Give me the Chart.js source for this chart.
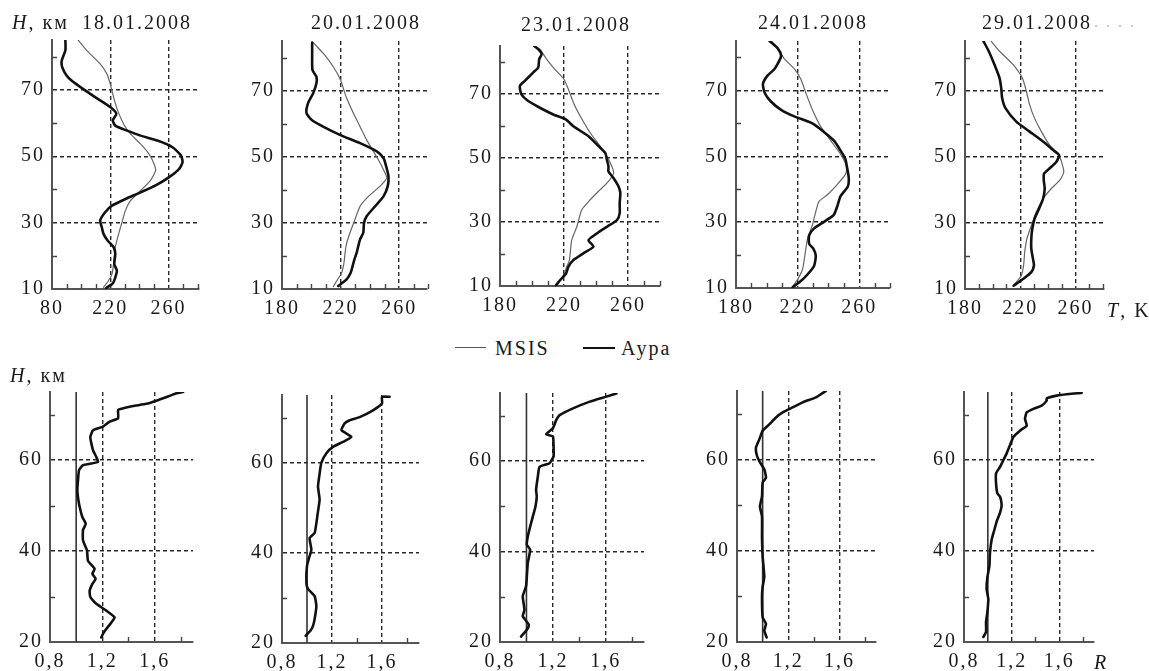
<!DOCTYPE html>
<html>
<head>
<meta charset="utf-8">
<script src="https://cdn.jsdelivr.net/npm/chart.js@4.4.1/dist/chart.umd.min.js"></script>
<style>
  html, body { margin: 0; padding: 0; background: #fff; }
  body { position: relative; width: 1149px; height: 671px; overflow: hidden; }
  canvas { position: absolute; }
  .txt { position: absolute; font-family: "Liberation Serif", "Times New Roman", serif; font-size: 20px;
         line-height: 20px; letter-spacing: 2px; color: #1a1a1a; white-space: nowrap; transform: translateY(-50%); }
  .ctr { transform: translate(-50%, -50%); }
  .it { font-style: italic; }
  .key { position: absolute; height: 0; }
</style>
</head>
<body>
<script>
// Sounding dates
const dates = ['18.01.2008', '20.01.2008', '23.01.2008', '24.01.2008', '29.01.2008'];

// Temperature profiles: [T, K ; H, km]
const auraT18 = [[189.2,85],[189.2,81.9],[186.7,78.8],[187,76.8],[190,74.3],[193.4,72.8],[201.5,70.2],[209.6,67.8],[220,64.8],[224.2,62.8],[221.8,60.8],[223.5,59.2],[231.6,57.7],[240.8,56.2],[252.4,54.7],[262.8,52.7],[268.6,50.2],[269.7,48.2],[267.4,46.2],[260.5,43.7],[251.2,41.2],[240.8,39.1],[230.4,37.1],[221.2,35.1],[216.5,33.1],[213.1,30.6],[214.2,28.6],[215.4,26.6],[218.2,24.6],[222.3,22.6],[223.5,20.6],[222.8,17.5],[224.6,15.5],[223.5,13.5],[221.8,11.7],[217.2,10.3]];
const msisT18 = [[198,85],[203.8,81.9],[213.1,77.8],[217.7,74.8],[220,71.8],[222.3,67.8],[225.1,63.8],[229.2,59.7],[233.9,56.7],[240.8,53.7],[246.6,50.7],[250.1,47.7],[251.2,45.7],[247.7,42.7],[240.8,39.6],[233.9,36.6],[230.4,33.6],[228.1,30.1],[225.8,26.6],[223.5,22.6],[222.3,17.5],[221.2,14.5],[218.8,12.5],[215.4,10.5]];

const auraT20 = [[200.6,84.5],[200.6,81.3],[200.8,76.2],[203.5,74.2],[203.5,72.2],[201.3,69.2],[197.8,66.2],[196.7,63.2],[200.1,61.2],[208.1,59.1],[219.5,56.6],[233.3,54.1],[244.7,51.6],[249.3,49.6],[251.1,47.1],[252.7,44.1],[252.2,41.1],[249.3,38],[243.5,35],[237.8,32],[236,30],[235.5,27],[233.3,25],[232.1,23],[231,21],[229.4,18.9],[228.2,16.9],[226.9,14.9],[224.1,12.9],[218.4,10.9]];
const msisT20 = [[201.3,84.5],[208.1,81.3],[215,77.2],[220,73.2],[223.7,68.2],[228.7,63.2],[233.3,59.1],[237.8,55.1],[242.4,51.6],[245.8,49.1],[249.3,46.1],[251.5,43.6],[247,41.1],[239,38],[233.3,35],[229.8,31],[226.4,27],[223.7,23],[222.3,17.9],[220.7,14.9],[217.3,12.4],[215,10.7]];

const auraT23 = [[201.4,85],[203.9,84],[206,82.5],[204.5,80.9],[203.9,78.3],[200.7,76.7],[195.5,74.1],[192.4,72.5],[193.4,69.9],[197.6,67.8],[204.9,65.7],[213.3,63.6],[221.3,62],[225.9,59.9],[235.3,56.8],[241.6,53.7],[245.8,51.6],[246.8,49.5],[247.8,47.4],[247.8,45.8],[251,43.7],[254.1,41.1],[255.2,39],[254.8,35.9],[254.8,32.7],[253.1,30.6],[246.8,28.5],[240.5,26.4],[235.3,24.3],[238.4,22.3],[232.1,20.2],[225.9,18.1],[222.7,16],[221.3,13.9],[217.5,11.8],[215,10.2]];
const msisT23 = [[200.7,85],[204.9,84],[209.1,80.9],[214.3,77.7],[220,74.6],[222.7,71.5],[225.9,67.3],[230.1,63.1],[236.3,57.9],[242.6,53.7],[246.8,50.5],[249.9,47.4],[251,45.3],[247.8,42.7],[242.6,40.1],[236.3,36.9],[231.1,33.8],[228,28.5],[224.8,24.3],[223.4,18.1],[221.7,16],[219.2,12.8],[215.4,10.2]];

const auraT24 = [[201.8,85],[207.2,82.7],[209.3,80.6],[208.2,79.1],[205,76.5],[200.3,74.4],[197.5,71.9],[198.6,69.3],[202.5,66.7],[209.3,64.1],[217.9,62.1],[229.6,60],[237.1,57.4],[243.5,54.8],[247.8,51.8],[251,49.2],[252.1,46.6],[253.2,43.5],[252.7,40.9],[247.8,37.8],[246.1,35.3],[243.5,32.2],[237.1,30.1],[230.7,28.1],[227.5,26],[227.5,23.4],[230.3,21.9],[231.8,19.8],[230.7,16.7],[226.4,14.1],[222.1,12.1],[216.8,10.2]];
const msisT24 = [[202.9,85],[207.2,82.7],[211.4,79.6],[217.9,76.5],[222.1,73.4],[225.3,69.3],[229.6,64.1],[235,59],[241.4,54.8],[247.8,50.7],[252.1,46.6],[251,44.5],[245.7,41.4],[239.3,38.3],[233.9,36.3],[231.8,33.2],[229.6,29.1],[226.4,24.9],[224.7,19.8],[223.2,15.7],[220,12.6],[216.8,10.5]];

const auraT29 = [[193.3,85],[197.2,81.9],[201.3,77.9],[205,73.8],[206.2,70.8],[206.9,67.7],[209.3,64.7],[217.1,60.6],[226.8,57.6],[236.5,54.6],[243.8,52],[248.1,50.5],[246.2,48.5],[241.3,46.5],[237.2,44.9],[237,42.9],[237.7,40.4],[236.5,37.3],[233.6,34.3],[230.4,31.3],[228.7,28.2],[228,25.2],[228,22.1],[229.2,19.1],[229.9,17.1],[228,15.1],[221.9,13],[215.2,11]];
const msisT29 = [[198.9,85],[205,81.9],[214.7,77.9],[221.5,73.8],[224.4,69.8],[226.8,65.7],[230.4,61.6],[235.3,57.6],[241.3,53.5],[247.4,51],[249.8,48.5],[251.5,45.4],[248.6,42.9],[242.5,40.4],[236.5,37.3],[231.6,33.3],[228,29.2],[224.8,25.2],[223.2,21.1],[222.4,17.1],[220.7,14],[215.9,11.5]];

// Ratio of Aura to MSIS temperature: [R ; H, km]
const ratio18 = [[1.817,75],[1.766,74.7],[1.702,74],[1.625,73.2],[1.536,72.4],[1.434,71.9],[1.332,71.2],[1.32,71],[1.32,69.2],[1.256,68.5],[1.205,67.4],[1.129,66.6],[1.108,65.1],[1.116,63.7],[1.129,62.2],[1.154,60.7],[1.167,59.6],[1.052,58.9],[1.022,57.8],[1.014,55.6],[1.009,53.4],[1.017,51.2],[1.027,49.7],[1.047,47.5],[1.073,46],[1.052,44.6],[1.052,42.4],[1.083,40.1],[1.09,37.9],[1.141,36.1],[1.124,35],[1.149,33.9],[1.124,32.8],[1.103,31.3],[1.108,29.9],[1.154,28.4],[1.231,26.9],[1.294,25.4],[1.269,24.3],[1.231,22.9],[1.205,21.8],[1.192,21]];
const ratio20 = [[1.661,74.6],[1.6,74.6],[1.6,73.1],[1.528,71.6],[1.421,70.1],[1.341,69.4],[1.301,68.7],[1.275,67.2],[1.355,65.7],[1.288,64.6],[1.208,63.5],[1.155,62.1],[1.115,60],[1.101,57.6],[1.088,54.7],[1.101,51.8],[1.088,49.2],[1.075,46.6],[1.061,44.4],[1.021,43.3],[1.035,40.7],[1.021,39.3],[1,37.1],[0.995,33.4],[1.008,32],[1.061,30.4],[1.075,28.2],[1.061,25.3],[1.048,23.8],[1.027,22.7],[0.989,21.6]];
const ratio23 = [[1.681,74.9],[1.605,74.2],[1.479,73.1],[1.352,71.6],[1.251,70.1],[1.225,69],[1.2,67.2],[1.149,65.9],[1.2,65.4],[1.205,63.2],[1.205,61],[1.175,59.5],[1.099,58.7],[1.086,56.5],[1.073,53.6],[1.078,52.1],[1.068,49.9],[1.048,47.7],[1.028,45.5],[1.01,43.3],[1.003,41.5],[1.028,40.4],[1.01,37.4],[1.003,34.5],[0.997,32.3],[0.972,30.1],[0.985,27.1],[0.972,25.7],[1.018,23.8],[1.003,22.7],[0.959,21.2]];
const ratio24 = [[1.493,75],[1.455,74.3],[1.416,73.6],[1.312,72.5],[1.234,71.4],[1.156,70.3],[1.104,69.2],[1.052,67.7],[1,66.3],[0.974,64.4],[0.948,62.6],[0.953,61.1],[0.974,59.6],[1.013,57.8],[1.026,56],[1,54.9],[0.995,51.9],[0.979,49.7],[0.995,47.5],[0.995,43.1],[1,38.7],[1.013,34.3],[1,32.1],[0.995,29.9],[1,25.4],[1.026,24],[1.013,22.5],[1.031,21]];
const ratio29 = [[1.787,74.8],[1.661,74.5],[1.578,74.2],[1.494,73.6],[1.494,73.1],[1.452,72],[1.382,71.3],[1.326,70.5],[1.312,69.1],[1.326,67.6],[1.27,66.5],[1.214,65.1],[1.186,63.3],[1.158,61.5],[1.13,60],[1.102,58.5],[1.069,57.1],[1.069,54.9],[1.08,52.7],[1.102,52],[1.116,50.2],[1.102,48.4],[1.074,46.5],[1.055,44.7],[1.032,42.5],[1.018,39.6],[1.013,36.7],[0.996,34.2],[0.99,31.6],[1.004,29.5],[0.996,26.5],[0.985,24.4],[0.985,22.2],[0.962,21.1]];
// MSIS reference ratio (R = 1)
const msisRatio = [[1,20],[1,75]];

// Tick values and labels
const tempTicks = [180, 220, 260];
const tempTickText = ['180', '220', '260'];
const tempTickTextFirst = ['80', '220', '260'];
const heightTicksT = [10, 30, 50, 70];
const heightTickTextT = ['10', '30', '50', '70'];
const ratioTicks = [0.8, 1.2, 1.6];
const ratioTickText = ['0,8', '1,2', '1,6'];
const heightTicksR = [20, 40, 60];
const heightTickTextR = ['20', '40', '60'];
// Minor (unlabelled) tick marks drawn inward
const tempMinor = [190, 200, 210, 230, 240, 250, 270, 280];
const heightMinorT = [20, 40, 60, 80];
const ratioMinor = [1.4, 1.8];
const heightMinorR = [30, 50, 70];

// Plot-area rectangles [left, top, right, bottom] in page pixels and x ranges
const topLayout = [
  { box: [52, 40, 199, 289],    xMax: 281 },
  { box: [282, 41, 427, 289],   xMax: 279 },
  { box: [500, 46, 660, 286],   xMax: 280 },
  { box: [736, 41, 890, 288],   xMax: 280 },
  { box: [965, 41, 1104, 289],  xMax: 280.6 }
];
const bottomLayout = [
  { box: [50, 392, 193, 642],   xMax: 1.893 },
  { box: [282, 395, 419, 643],  xMax: 1.896 },
  { box: [500, 393, 644, 642],  xMax: 1.889 },
  { box: [737, 391, 876, 642],  xMax: 1.884 },
  { box: [964, 392, 1094, 642], xMax: 1.891 }
];

const PADL = 50, PADT = 14, PADR = 14, PADB = 32;
const SERIF = '"Liberation Serif", "Times New Roman", serif';
const FONT_SIZE = 20;

// slightly spread glyphs, as in the printed figure
const spacingPlugin = { id: 'spacing', beforeDraw(chart) { chart.ctx.letterSpacing = '2px'; } };

function minorTickPlugin(xs, ys) {
  return {
    id: 'minorTicks',
    afterDraw(chart) {
      const { ctx, chartArea: a, scales: { x, y } } = chart;
      ctx.save();
      ctx.strokeStyle = '#444';
      ctx.lineWidth = 1.4;
      ctx.beginPath();
      xs.forEach(v => { const p = Math.round(x.getPixelForValue(v)) + 0.5; ctx.moveTo(p, a.bottom); ctx.lineTo(p, a.bottom - 5); });
      ys.forEach(v => { const p = Math.round(y.getPixelForValue(v)) + 0.5; ctx.moveTo(a.left, p); ctx.lineTo(a.left + 5, p); });
      ctx.stroke();
      ctx.restore();
    }
  };
}

function axis(min, max, values, labels, isX) {
  return {
    type: 'linear', min, max, bounds: 'data', position: isX ? 'bottom' : 'left',
    afterBuildTicks: s => { s.ticks = values.map(v => ({ value: v })); },
    afterFit: s => {
      if (isX) s.height = PADB; else s.width = PADL;
      s.paddingLeft = s.paddingRight = s.paddingTop = s.paddingBottom = 0;
    },
    grid: { drawTicks: false, lineWidth: 1.4, color: c => (c.index === 0 ? 'rgba(0,0,0,0)' : '#2a2a2a') },
    border: { display: true, color: '#555', width: 2, dash: [4, 3] },
    ticks: {
      autoSkip: false, maxRotation: 0, minRotation: 0, padding: isX ? 8 : 7, color: '#1a1a1a',
      font: { family: SERIF, size: FONT_SIZE },
      callback: (v, i) => labels[i]
    }
  };
}

const pts = arr => arr.map(p => ({ x: p[0], y: p[1] }));

function panel(box, xAxis, yAxis, datasets, minorX, minorY) {
  const [L, T, R, B] = box;
  const w = R - L + PADL + PADR, h = B - T + PADT + PADB;
  const cv = document.createElement('canvas');
  cv.width = w; cv.height = h;
  cv.style.left = (L - PADL) + 'px'; cv.style.top = (T - PADT) + 'px';
  cv.style.width = w + 'px'; cv.style.height = h + 'px';
  document.body.appendChild(cv);
  new Chart(cv, {
    type: 'scatter',
    data: { datasets },
    options: {
      responsive: false, animation: false, devicePixelRatio: 1,
      layout: { padding: { left: 0, top: PADT, right: PADR, bottom: 0 } },
      plugins: { legend: { display: false }, tooltip: { enabled: false } },
      elements: { point: { radius: 0 } },
      scales: { x: xAxis, y: yAxis }
    },
    plugins: [spacingPlugin, minorTickPlugin(minorX, minorY)]
  });
}

function line(data, color, width, tension) {
  return { data: pts(data), showLine: true, fill: false, borderColor: color, borderWidth: width,
           pointRadius: 0, tension, borderJoinStyle: 'round', borderCapStyle: 'round' };
}

const auraTemps = [auraT18, auraT20, auraT23, auraT24, auraT29];
const msisTemps = [msisT18, msisT20, msisT23, msisT24, msisT29];
const ratios = [ratio18, ratio20, ratio23, ratio24, ratio29];

topLayout.forEach((p, i) => {
  panel(p.box,
    axis(180, p.xMax, tempTicks, i === 0 ? tempTickTextFirst : tempTickText, true),
    axis(10, 85, heightTicksT, heightTickTextT, false),
    [line(auraTemps[i], '#111', 2.6, 0.2), line(msisTemps[i], '#666', 1.2, 0.2)],
    tempMinor, heightMinorT);
});

bottomLayout.forEach((p, i) => {
  panel(p.box,
    axis(0.8, p.xMax, ratioTicks, ratioTickText, true),
    axis(20, 75, heightTicksR, heightTickTextR, false),
    [line(ratios[i], '#111', 2.6, 0.15), line(msisRatio, '#333', 1.6, 0)],
    ratioMinor, heightMinorR);
});

// Text: axis names, dates, legend
function text(html, x, y, centered, extra) {
  const d = document.createElement('div');
  d.className = 'txt' + (centered ? ' ctr' : '');
  d.innerHTML = html;
  d.style.left = x + 'px'; d.style.top = y + 'px';
  if (extra) Object.assign(d.style, extra);
  document.body.appendChild(d);
}
function key(x1, x2, y, width, color) {
  const k = document.createElement('div');
  k.className = 'key';
  k.style.left = x1 + 'px'; k.style.width = (x2 - x1) + 'px';
  k.style.top = (y - width / 2) + 'px'; k.style.borderTop = width + 'px solid ' + color;
  document.body.appendChild(k);
}

text('<span class="it">H</span>, км', 12, 22, false);
const dateCenters = [[137, 22], [366, 22], [576, 24], [813, 22], [1037, 22]];
dates.forEach((d, i) => text(d, dateCenters[i][0], dateCenters[i][1], true));
text('. . . .', 1094, 22, false, { color: '#bbb', fontSize: '16px' });
text('<span class="it">T</span>, K', 1107, 310, false);

key(455, 486, 348, 1.3, '#555');
text('MSIS', 495, 348, false);
key(583, 615, 348, 2.8, '#111');
text('Аура', 621, 348, false);

text('<span class="it">H</span>, км', 10, 375, false);
text('<span class="it">R</span>', 1094, 662, false);
</script>
</body>
</html>
